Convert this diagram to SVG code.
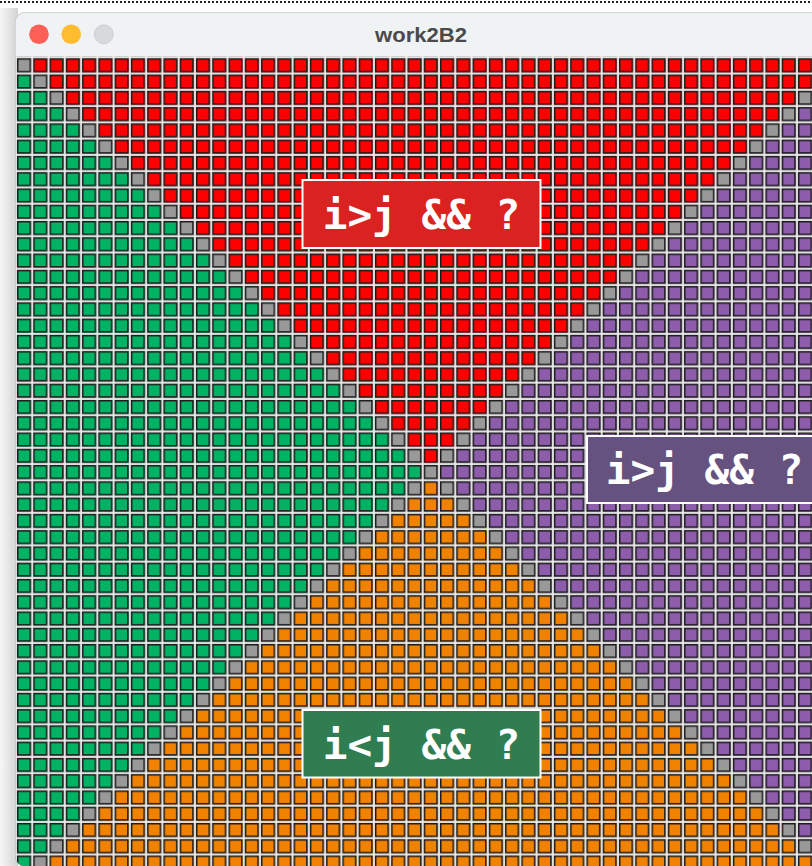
<svg xmlns="http://www.w3.org/2000/svg" width="812" height="866" viewBox="0 0 812 866">
<style>
.lbl{font-family:"DejaVu Sans Mono","Liberation Mono",monospace;font-weight:bold;font-size:41px;fill:#ffffff;text-anchor:middle}
.box{stroke:#ffffff;stroke-width:2}
</style>
<defs>
<linearGradient id="shadow" x1="0" y1="0" x2="1" y2="0">
<stop offset="0" stop-color="#f7f7f7"/>
<stop offset="1" stop-color="#d2d2d2"/>
</linearGradient>
<clipPath id="win"><rect x="15" y="12" width="840" height="855" rx="11"/></clipPath>
<pattern id="cell" patternUnits="userSpaceOnUse" width="1" height="1">
<path d="M0.86 0H1V1H0.86z M0 0.86H1V1H0z" fill="#c6c6c6"/>
<path d="M0.91 0h0.06v1h-0.06z M0 0.91h1v0.06h-1z" fill="#f6f6f6"/>
<rect x="0.045" y="0.045" width="0.77" height="0.77" fill="none" stroke="#1c1c1c" stroke-width="0.09"/>
</pattern>
</defs>
<rect x="0" y="0" width="812" height="866" fill="#ffffff"/>
<rect x="0" y="8" width="18" height="858" fill="url(#shadow)"/>
<line x1="0" y1="2" x2="812" y2="2" stroke="#222222" stroke-width="2" stroke-dasharray="2 2"/>
<g id="window" clip-path="url(#win)">
<rect x="15" y="12" width="840" height="855" fill="#d0d0d0"/>
<g id="grid" transform="translate(17 58.3) scale(16.27)">
<polygon points="-1,-1 51.86,-1 25.43,25.43" fill="#ff0000"/>
<polygon points="-1,-1 25.43,25.43 -1.2,52" fill="#00b264"/>
<polygon points="52,-1.14 25.43,25.43 52,52" fill="#8d5cab"/>
<polygon points="-1.14,52 25.43,25.43 52,52" fill="#f08200"/>
<path fill="#999999" d="M0 0h1v1h-1zm1 1h1v1h-1zm1 1h1v1h-1zm1 1h1v1h-1zm1 1h1v1h-1zm1 1h1v1h-1zm1 1h1v1h-1zm1 1h1v1h-1zm1 1h1v1h-1zm1 1h1v1h-1zm1 1h1v1h-1zm1 1h1v1h-1zm1 1h1v1h-1zm1 1h1v1h-1zm1 1h1v1h-1zm1 1h1v1h-1zm1 1h1v1h-1zm1 1h1v1h-1zm1 1h1v1h-1zm1 1h1v1h-1zm1 1h1v1h-1zm1 1h1v1h-1zm1 1h1v1h-1zm1 1h1v1h-1zm1 1h1v1h-1zm1 1h1v1h-1zm1 1h1v1h-1zm1 1h1v1h-1zm1 1h1v1h-1zm1 1h1v1h-1zm1 1h1v1h-1zm1 1h1v1h-1zm1 1h1v1h-1zm1 1h1v1h-1zm1 1h1v1h-1zm1 1h1v1h-1zm1 1h1v1h-1zm1 1h1v1h-1zm1 1h1v1h-1zm1 1h1v1h-1zm1 1h1v1h-1zm1 1h1v1h-1zm1 1h1v1h-1zm1 1h1v1h-1zm1 1h1v1h-1zm1 1h1v1h-1zm1 1h1v1h-1zm1 1h1v1h-1zm1 1h1v1h-1zm1 1h1v1h-1zm1 1h1v1h-1z"/>
<path fill="#999999" d="M50 0h1v1h-1zm-1 1h1v1h-1zm-1 1h1v1h-1zm-1 1h1v1h-1zm-1 1h1v1h-1zm-1 1h1v1h-1zm-1 1h1v1h-1zm-1 1h1v1h-1zm-1 1h1v1h-1zm-1 1h1v1h-1zm-1 1h1v1h-1zm-1 1h1v1h-1zm-1 1h1v1h-1zm-1 1h1v1h-1zm-1 1h1v1h-1zm-1 1h1v1h-1zm-1 1h1v1h-1zm-1 1h1v1h-1zm-1 1h1v1h-1zm-1 1h1v1h-1zm-1 1h1v1h-1zm-1 1h1v1h-1zm-1 1h1v1h-1zm-1 1h1v1h-1zm-1 1h1v1h-1zm-1 1h1v1h-1zm-1 1h1v1h-1zm-1 1h1v1h-1zm-1 1h1v1h-1zm-1 1h1v1h-1zm-1 1h1v1h-1zm-1 1h1v1h-1zm-1 1h1v1h-1zm-1 1h1v1h-1zm-1 1h1v1h-1zm-1 1h1v1h-1zm-1 1h1v1h-1zm-1 1h1v1h-1zm-1 1h1v1h-1zm-1 1h1v1h-1zm-1 1h1v1h-1zm-1 1h1v1h-1zm-1 1h1v1h-1zm-1 1h1v1h-1zm-1 1h1v1h-1zm-1 1h1v1h-1zm-1 1h1v1h-1zm-1 1h1v1h-1zm-1 1h1v1h-1zm-1 1h1v1h-1z"/>
<rect x="-1" y="-1" width="53" height="53" fill="url(#cell)"/>
</g>
<g id="titlebar">
<rect x="15" y="12" width="840" height="44.6" fill="#eff3f3"/>
<rect x="15" y="12" width="840" height="855" rx="11" fill="none" stroke="#b9bcbd" stroke-width="1"/>
<circle cx="39" cy="34.3" r="9.8" fill="#fe5f57"/>
<circle cx="71.2" cy="34.3" r="9.8" fill="#febc2e"/>
<circle cx="103.8" cy="34.3" r="9.5" fill="#d6dadb" stroke="#c6cacb" stroke-width="0.8"/>
<text x="421" y="41.5" font-family="Liberation Sans, Arial, sans-serif" font-weight="bold" font-size="19.5" fill="#4a4a4a" text-anchor="middle" textLength="92" lengthAdjust="spacingAndGlyphs">work2B2</text>
</g>
</g>
<g id="label-top">
<rect class="box" x="302.5" y="180" width="238" height="68" fill="#da2320"/>
<text class="lbl" x="421.5" y="229.3">i&gt;j &amp;&amp; ?</text>
</g>
<g id="label-right">
<rect class="box" x="587" y="436" width="238" height="67" fill="#66527f"/>
<text class="lbl" x="704.5" y="484">i&gt;j &amp;&amp; ?</text>
</g>
<g id="label-bottom">
<rect class="box" x="302.5" y="710" width="238" height="67.5" fill="#2f7d51"/>
<text class="lbl" x="421.5" y="759.3">i&lt;j &amp;&amp; ?</text>
</g>
</svg>
